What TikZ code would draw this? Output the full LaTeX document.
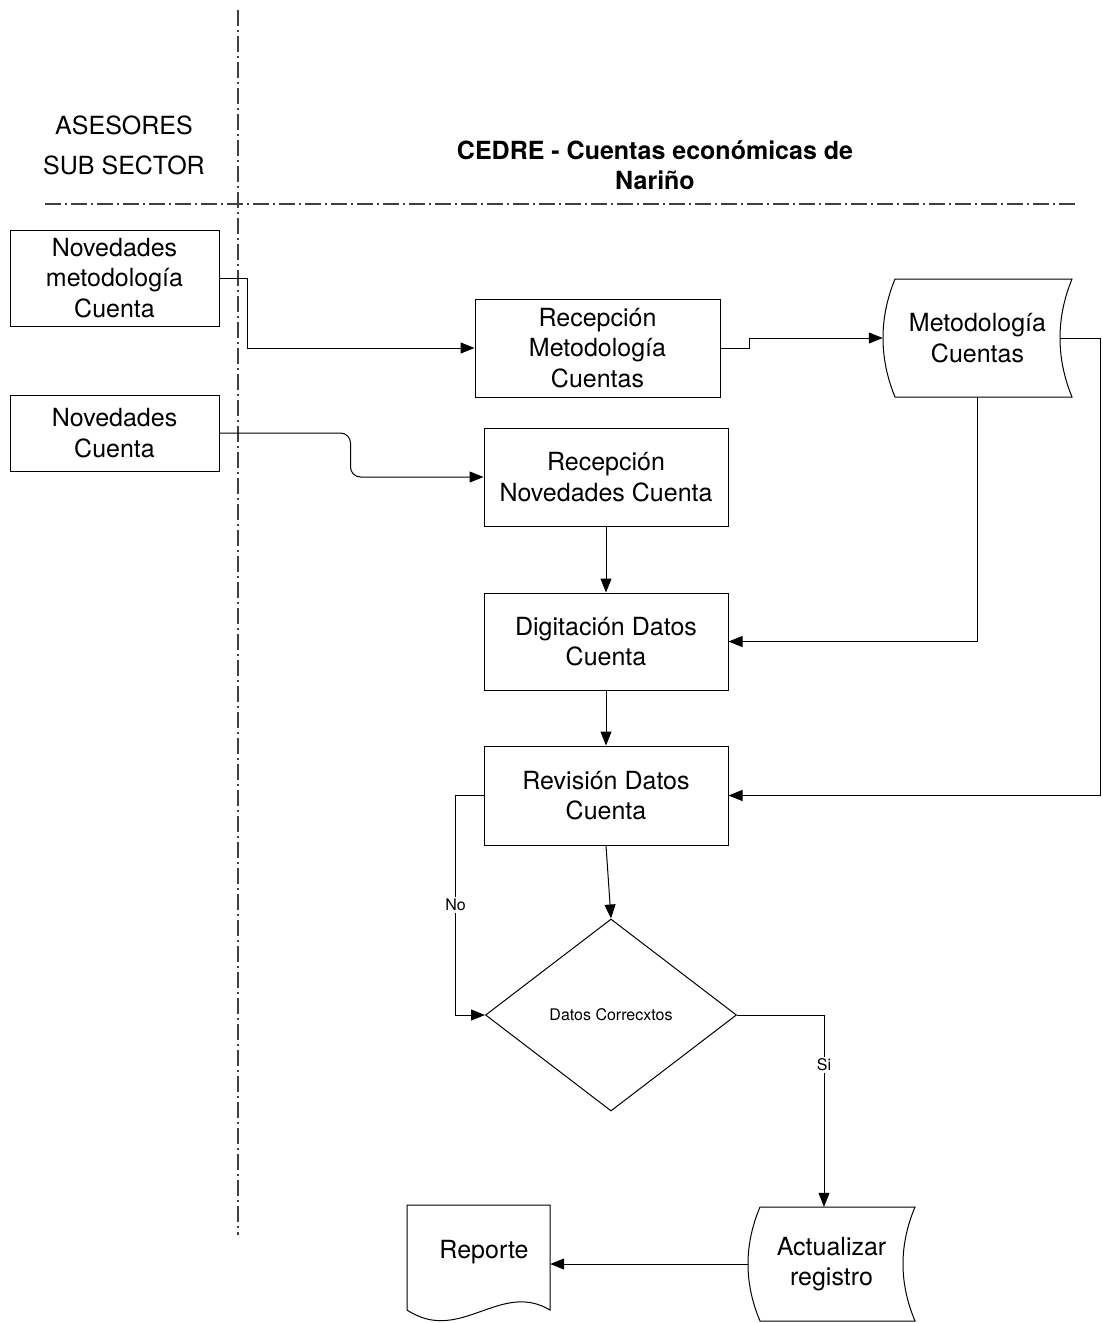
\documentclass[tikz,border=0pt]{standalone}
\usepackage{fontspec}
\setmainfont{TeX Gyre Heros}
\usetikzlibrary{arrows.meta,shapes.geometric}
\begin{document}
\begin{tikzpicture}[x=1pt,y=-1pt,
  every node/.style={inner sep=0pt, align=center},
  big/.style={font=\fontsize{25}{30.5}\selectfont},
  box/.style={draw, line width=1pt, big},
  ghost/.style={draw=none, big},
  shapeline/.style={draw, line width=1pt},
  arr/.style={line width=1pt, -{Triangle[length=14pt,width=11pt]}},
  lane/.style={draw=black!75, line width=1.5pt, dash pattern=on 16pt off 4pt on 2pt off 4pt},
  lbl/.style={fill=white, inner sep=2pt, font=\fontsize{16}{19}\selectfont}]
\useasboundingbox (0,0) rectangle (1103,1323);

% swimlane separators
\draw[lane] (238,10) -- (238,1235);
\draw[lane] (45,204) -- (1075,204);

% lane headers
\node[font=\fontsize{25}{40}\selectfont] (hasesores) at (124,145) {ASESORES\\SUB SECTOR};
\node[font=\bfseries\fontsize{25}{30}\selectfont] (hcedre) at (655,165) {CEDRE - Cuentas económicas de\\Nariño};

% process boxes
\node[box, minimum width=209pt, minimum height=96pt] (nm) at (114.5,278) {Novedades\\metodología\\Cuenta};
\node[box, minimum width=209pt, minimum height=76pt] (nc) at (114.5,433) {Novedades\\Cuenta};
\node[box, minimum width=245pt, minimum height=98pt] (rm) at (597.5,348) {Recepción\\Metodología\\Cuentas};
\node[box, minimum width=244pt, minimum height=98pt] (rn) at (606,477) {Recepción\\Novedades Cuenta};
\node[box, minimum width=244pt, minimum height=97pt] (dd) at (606,641.5) {Digitación Datos\\Cuenta};
\node[box, minimum width=244pt, minimum height=99pt] (rv) at (606,795.5) {Revisión Datos\\Cuenta};

% stored data: Metodologia Cuentas
\node[ghost, minimum width=189pt, minimum height=118pt] (md) at (977.5,338) {Metodología\\Cuentas};
\path[shapeline] (895,279) -- (1072,279)
  .. controls (1056,318) and (1056,358) .. (1072,397) -- (895,397)
  .. controls (879,358) and (879,318) .. cycle;

% decision
\node[diamond, draw, line width=1pt, minimum width=251pt, minimum height=192pt,
      font=\fontsize{16}{19}\selectfont] (dc) at (611,1015) {Datos Correcxtos};

% stored data: Actualizar registro
\node[ghost, minimum width=167pt, minimum height=114pt] (ar) at (831.5,1264) {Actualizar\\registro};
\path[shapeline] (760,1207) -- (915,1207)
  .. controls (899,1245) and (899,1283) .. (915,1321) -- (760,1321)
  .. controls (744,1283) and (744,1245) .. cycle;

% document: Reporte
\node[ghost, minimum width=132pt, minimum height=94pt] (rp) at (484,1252) {Reporte};
\path[shapeline] (407,1205) -- (550,1205) -- (550,1310)
  .. controls (500,1280) and (460,1345) .. (407,1310) -- cycle;

% connectors
\draw[arr] (nm.east) -- ++(28,0) |- (rm.west);
\draw[arr, rounded corners=10pt] (nc.east) -- ++(131,0) |- (rn.west);
\draw[arr] (rm.east) -- ++(29,0) |- (md.west);
\draw[arr] (md.south) |- (dd.east);
\draw[arr] ([xshift=-12pt]md.east) -- ++(40,0) |- (rv.east);
\draw[arr] (rn.south) -- (dd.north);
\draw[arr] (dd.south) -- (rv.north);
\draw[arr] (rv.south) -- (dc.north);
\draw[arr] (rv.west) -- ++(-28,0) |- node[lbl, pos=0.25] {No} (dc.west);
\draw[arr] (dc.east) -| node[lbl, pos=0.63] {Si} ([xshift=-7.5pt]ar.north);
\draw[arr] (ar.west) -- (ar.west -| rp.east);
\end{tikzpicture}
\end{document}
